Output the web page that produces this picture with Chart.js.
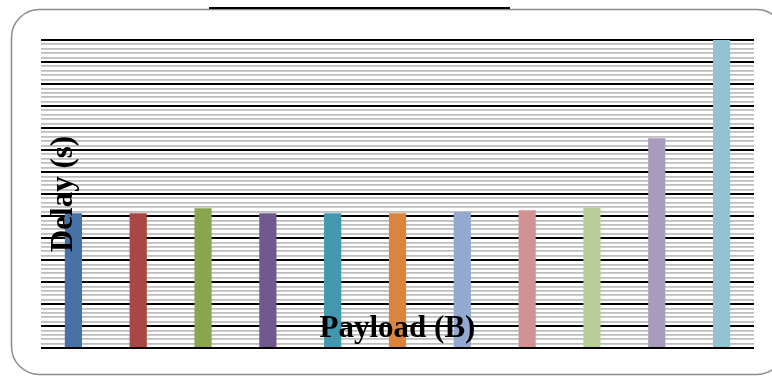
<!DOCTYPE html>
<html>
<head>
<meta charset="utf-8">
<script src="https://cdn.jsdelivr.net/npm/chart.js@4"></script>
<style>
  html, body { margin: 0; padding: 0; background: #fff; }
  #wrap { width: 772px; height: 376px; position: relative; }
</style>
</head>
<body>
<div id="wrap"><canvas id="delayChart" width="772" height="376"></canvas></div>
<script>
// Payload categories (no tick labels shown in the picture)
const categories = ['1', '2', '3', '4', '5', '6', '7', '8', '9', '10', '11'];
// Delay values
const delayValues = [6.12, 6.12, 6.35, 6.12, 6.12, 6.12, 6.18, 6.26, 6.38, 9.53, 14];
const barColors = ['#4672A8', '#AA4643', '#89A54E', '#71588F', '#4198AF', '#DB843D',
                   '#93A9CF', '#D19392', '#B9CD96', '#A99BBD', '#92C3D5'];
const yMin = 0;
const yMax = 14;
const yTitle = 'Delay (s)';
const xTitle = 'Payload (B)';

function isMajor(v) {
    return Math.abs(v - Math.round(v)) < 1e-6;
}

// frame, stray top rule and the overlapping axis titles
const decorations = {
    id: 'decorations',
    beforeDraw(chart) {
        const c = chart.ctx;
        c.save();
        c.fillStyle = '#fff';
        c.fillRect(0, 0, chart.width, chart.height);
        c.strokeStyle = '#8c8c8c';
        c.lineWidth = 1.5;
        c.beginPath();
        c.roundRect(11.5, 9.5, 773, 365, 28);
        c.stroke();
        c.strokeStyle = '#000';
        c.lineWidth = 2;
        c.beginPath();
        c.moveTo(209, 8);
        c.lineTo(510, 8);
        c.stroke();
        c.restore();
    },
    afterDraw(chart) {
        const c = chart.ctx;
        const a = chart.chartArea;
        c.save();
        c.fillStyle = '#000';
        c.font = 'bold 31px "Liberation Serif", "Times New Roman", serif';
        c.textAlign = 'center';
        c.textBaseline = 'alphabetic';
        c.fillText(xTitle, (a.left + a.right) / 2, 337);
        c.translate(72, (a.top + a.bottom) / 2);
        c.rotate(-Math.PI / 2);
        c.fillText(yTitle, 0, 0);
        c.restore();
    }
};

new Chart(document.getElementById('delayChart').getContext('2d'), {
    type: 'bar',
    data: {
        labels: categories,
        datasets: [{
            label: yTitle,
            data: delayValues,
            backgroundColor: barColors,
            hoverBackgroundColor: barColors,
            borderWidth: 0,
            barPercentage: 0.265,
            categoryPercentage: 1
        }]
    },
    options: {
        responsive: false,
        animation: false,
        events: [],
        layout: { padding: { left: 41, right: 18, top: 40, bottom: 28 } },
        plugins: {
            legend: { display: false },
            tooltip: { enabled: false }
        },
        scales: {
            x: {
                display: false
            },
            y: {
                min: yMin,
                max: yMax,
                border: { display: false },
                ticks: { display: false, stepSize: 0.2 },
                grid: {
                    z: -1,
                    drawTicks: false,
                    color: ctx => isMajor(ctx.tick.value) ? '#000' : '#bdbdbd',
                    lineWidth: ctx => isMajor(ctx.tick.value) ? 2 : 1.8
                }
            }
        }
    },
    plugins: [decorations]
});
</script>
</body>
</html>
